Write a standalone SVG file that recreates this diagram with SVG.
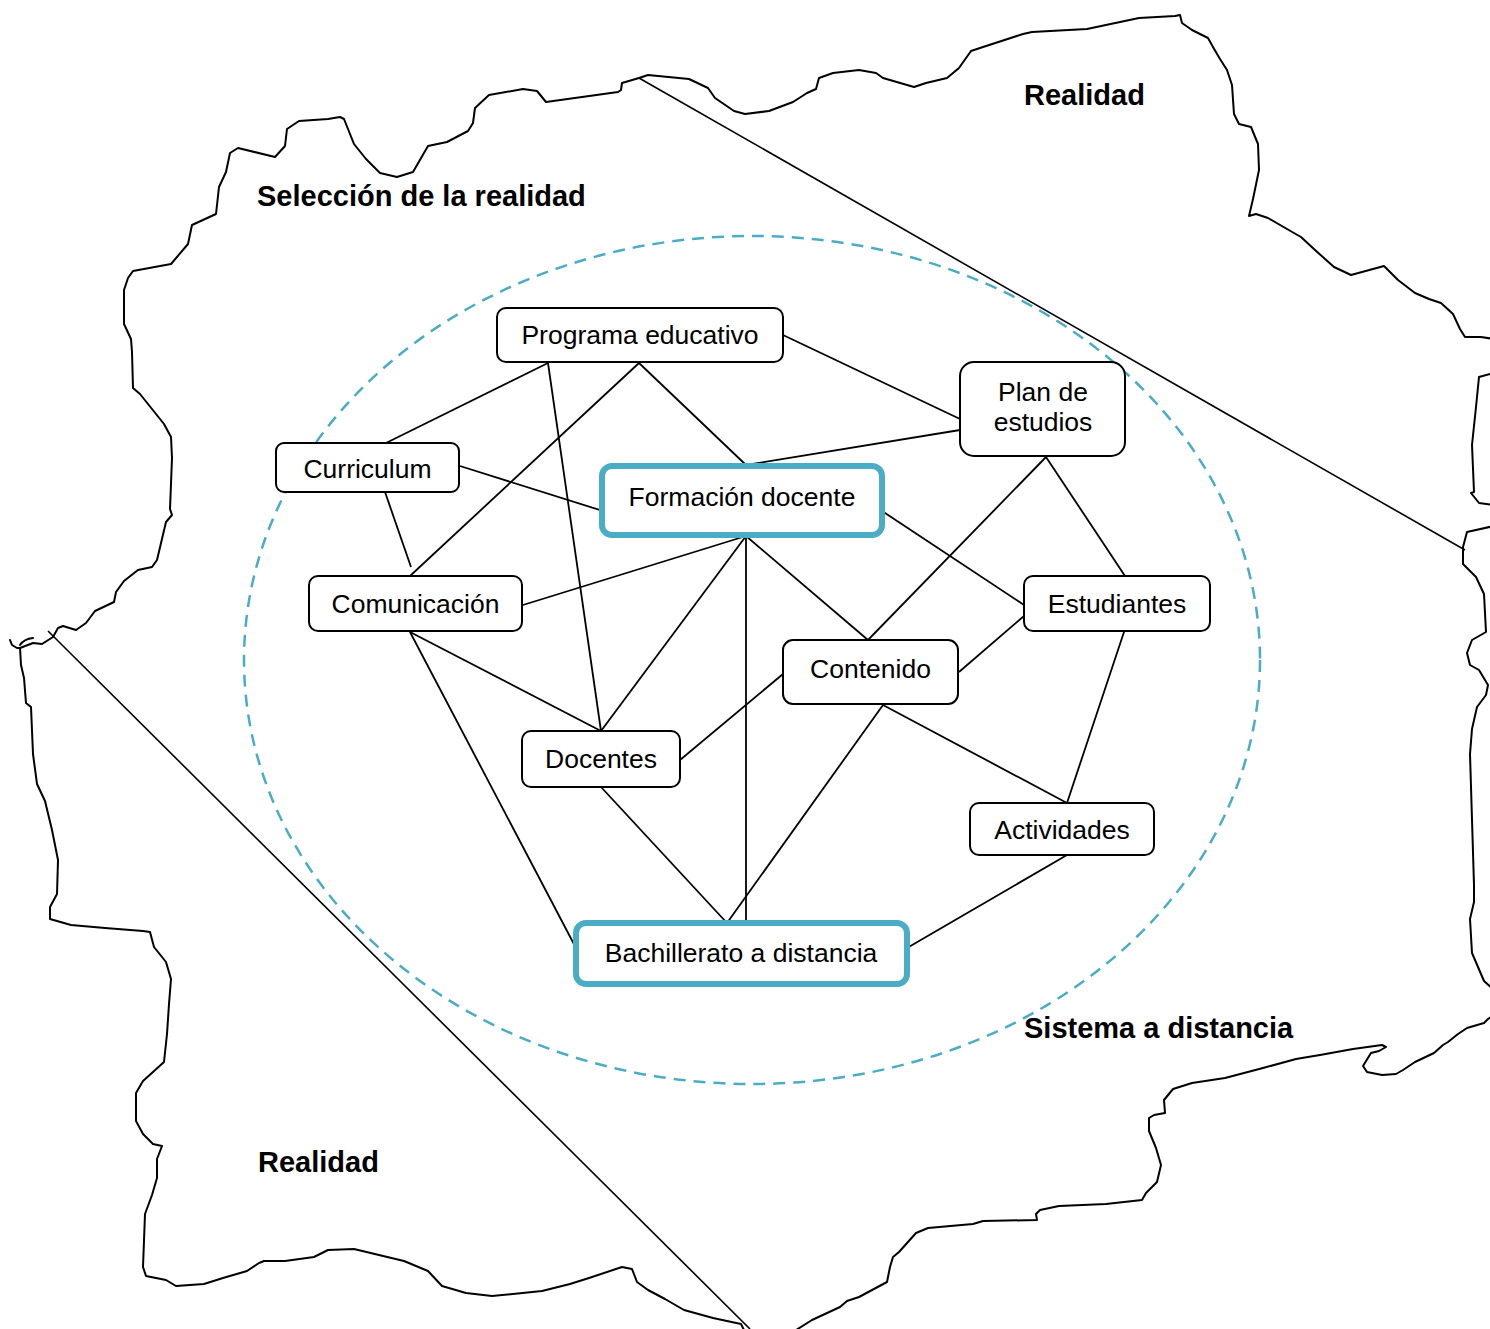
<svg xmlns="http://www.w3.org/2000/svg" width="1490" height="1329" viewBox="0 0 1490 1329">
<style>
.bg{fill:#ffffff}
.outline{fill:none;stroke:#000;stroke-width:2;stroke-linejoin:round;stroke-linecap:round}
.cut{fill:none;stroke:#000;stroke-width:1.6}
.ring{fill:none;stroke:#4BACC6;stroke-width:2.5;stroke-dasharray:12 8}
.node rect{fill:#fff;stroke:#000;stroke-width:2}
.key rect{fill:#fff;stroke:#4BACC6;stroke-width:6}
.node text,.key text{font-family:"Liberation Sans",Arial,sans-serif;font-size:26.5px;fill:#000;text-anchor:middle}
.lbl{font-family:"Liberation Sans",Arial,sans-serif;font-size:29px;font-weight:bold;fill:#000}
#connectors line{stroke:#000;stroke-width:1.8}
</style>
<rect class="bg" x="0" y="0" width="1490" height="1329"/>
<g id="outline">
<path class="outline" d="M10,640 L12,645 L17,648 L20,648 L33,643 L42,644 L53,637 L58,628 L63,626 L76,630 L86,623 L95,611 L114,602 L116,592 L124,581 L138,570 L152,567 L157,560 L166,522 L172,515 L170,509 L172,458 L171,437 L164,424 L140,394 L133,388 L132,352 L131,339 L124,324 L124,290 L128,278 L133,271 L171,264 L188,244 L192,225 L216,214 L219,187 L226,172 L230,153 L238,148 L275,157 L285,146 L287,129 L299,121 L328,119 L340,117 L344,119 L354,144 L366,159 L380,173 L397,177 L413,172 L428,146 L447,142 L468,131 L473,123 L475,108 L489,95 L523,89 L537,91 L546,102 L618,92 L621,90 L622,83 L639,78 L648,75 L689,79 L708,88 L715,98 L734,111 L745,114 L769,111 L793,102 L807,93 L816,89 L819,78 L833,73 L859,70 L876,73 L883,78 L914,87 L926,83 L947,78 L959,68 L971,51 L983,47 L1023,34 L1032,32 L1087,29 L1139,18 L1175,16 L1180,15 L1182,23 L1192,30 L1208,38 L1213,47 L1220,59 L1227,70 L1232,85 L1234,114 L1239,124 L1251,127 L1258,144 L1259,170 L1253,199 L1249,216 L1256,214 L1268,218 L1287,229 L1301,237 L1315,250 L1334,267 L1351,275 L1384,266 L1398,280 L1415,293 L1429,299 L1441,303 L1453,314 L1460,329 L1465,337 L1481,337 L1494,339"/>
<path class="outline" d="M1494,373 L1479,377 L1476,407 L1472,445 L1474,492 L1471,493 L1479,503 L1494,505"/>
<path class="outline" d="M1494,526 L1467,532 L1463,547 L1463,564 L1476,577 L1484,594 L1486,632 L1472,640 L1467,653 L1470,665 L1479,670 L1488,685 L1486,695 L1477,707 L1472,729 L1470,754 L1474,885 L1474,902 L1470,919 L1472,953 L1484,981 L1494,990"/>
<path class="outline" d="M1494,1015 L1488,1019 L1484,1023 L1467,1028 L1458,1034 L1448,1042 L1443,1045 L1434,1053 L1415,1062 L1403,1070 L1396,1074 L1382,1075 L1367,1072 L1363,1066 L1371,1053 L1379,1051 L1386,1047 L1382,1045 L1353,1049 L1320,1055 L1296,1059 L1263,1068 L1225,1078 L1192,1083 L1173,1089 L1164,1100 L1165,1113 L1154,1115 L1149,1118 L1149,1131 L1156,1148 L1161,1165 L1157,1182 L1146,1193 L1142,1200 L1106,1204 L1059,1206 L1040,1210 L1036,1214 L1037,1220 L983,1221 L973,1224 L928,1228 L916,1233 L899,1252 L893,1257 L890,1267 L887,1282 L859,1297 L847,1301 L840,1307 L812,1320 L793,1332"/>
<path class="outline" d="M745,1332 L741,1324 L713,1318 L684,1310 L665,1299 L648,1290 L637,1282 L632,1269 L622,1267 L589,1278 L570,1284 L542,1291 L492,1296 L466,1293 L442,1286 L428,1271 L404,1261 L354,1249 L328,1250 L314,1257 L285,1261 L264,1261 L259,1263 L247,1271 L223,1278 L204,1284 L176,1286 L166,1280 L146,1276 L143,1267 L145,1214 L152,1195 L157,1178 L157,1159 L162,1146 L153,1144 L143,1134 L136,1121 L136,1093 L143,1081 L164,1062 L167,1034 L169,1004 L171,979 L166,962 L154,947 L150,932 L143,931 L105,928 L71,925 L50,919 L50,907 L57,894 L58,860 L52,830 L45,801 L37,784 L33,754 L31,707 L26,703 L24,678 L21,665 L20,648"/>
<path class="outline" d="M20,645 Q24,639 33,638"/>
<line class="cut" x1="48" y1="631" x2="750" y2="1329"/>
<line class="cut" x1="639" y1="78" x2="1465" y2="550"/>
</g>
<ellipse class="ring" cx="752" cy="660" rx="508" ry="424"/>
<text class="lbl" x="257" y="206">Selección de la realidad</text>
<text class="lbl" x="1024" y="105">Realidad</text>
<text class="lbl" x="1024" y="1038">Sistema a distancia</text>
<text class="lbl" x="258" y="1172">Realidad</text>
<g id="connectors">
<line x1="548" y1="363" x2="386" y2="443"/>
<line x1="548" y1="363" x2="601" y2="731"/>
<line x1="639" y1="363" x2="410" y2="576"/>
<line x1="639" y1="363" x2="746" y2="465"/>
<line x1="783" y1="335" x2="960" y2="419"/>
<line x1="960" y1="430" x2="746" y2="465"/>
<line x1="1046" y1="457" x2="868" y2="640"/>
<line x1="1046" y1="457" x2="1125" y2="576"/>
<line x1="460" y1="466" x2="603" y2="511"/>
<line x1="385" y1="492" x2="411" y2="567"/>
<line x1="746" y1="536" x2="523" y2="605"/>
<line x1="746" y1="536" x2="601" y2="731"/>
<line x1="746" y1="536" x2="746" y2="923"/>
<line x1="746" y1="536" x2="868" y2="640"/>
<line x1="882" y1="511" x2="1024" y2="605"/>
<line x1="1024" y1="616" x2="959" y2="672"/>
<line x1="1126" y1="626" x2="1067" y2="803"/>
<line x1="410" y1="632" x2="601" y2="731"/>
<line x1="410" y1="632" x2="576" y2="948"/>
<line x1="783" y1="674" x2="680" y2="760"/>
<line x1="883" y1="705" x2="727" y2="923"/>
<line x1="883" y1="705" x2="1067" y2="803"/>
<line x1="601" y1="787" x2="727" y2="923"/>
<line x1="1067" y1="855" x2="907" y2="948"/>
</g>
<g id="programa" class="node"><rect x="497" y="308" width="286" height="54" rx="9"/><text x="640" y="344">Programa educativo</text></g>
<g id="plan" class="node"><rect x="960" y="362" width="165" height="94" rx="14"/><text x="1043" y="401">Plan de</text><text x="1043" y="431">estudios</text></g>
<g id="curriculum" class="node"><rect x="276" y="443" width="183" height="49" rx="8"/><text x="367.5" y="478">Curriculum</text></g>
<g id="formacion" class="key"><rect x="602" y="466" width="280" height="69" rx="10"/><text x="742" y="506">Formación docente</text></g>
<g id="comunicacion" class="node"><rect x="309" y="576" width="213" height="55" rx="9"/><text x="415.5" y="613">Comunicación</text></g>
<g id="estudiantes" class="node"><rect x="1024" y="576" width="186" height="55" rx="9"/><text x="1117" y="613">Estudiantes</text></g>
<g id="contenido" class="node"><rect x="783" y="640" width="175" height="64" rx="10"/><text x="870.5" y="678">Contenido</text></g>
<g id="docentes" class="node"><rect x="522" y="731" width="158" height="56" rx="9"/><text x="601" y="768">Docentes</text></g>
<g id="actividades" class="node"><rect x="970" y="803" width="184" height="52" rx="9"/><text x="1062" y="839">Actividades</text></g>
<g id="bachillerato" class="key"><rect x="576" y="923" width="331" height="61" rx="10"/><text x="741" y="962">Bachillerato a distancia</text></g>
</svg>
